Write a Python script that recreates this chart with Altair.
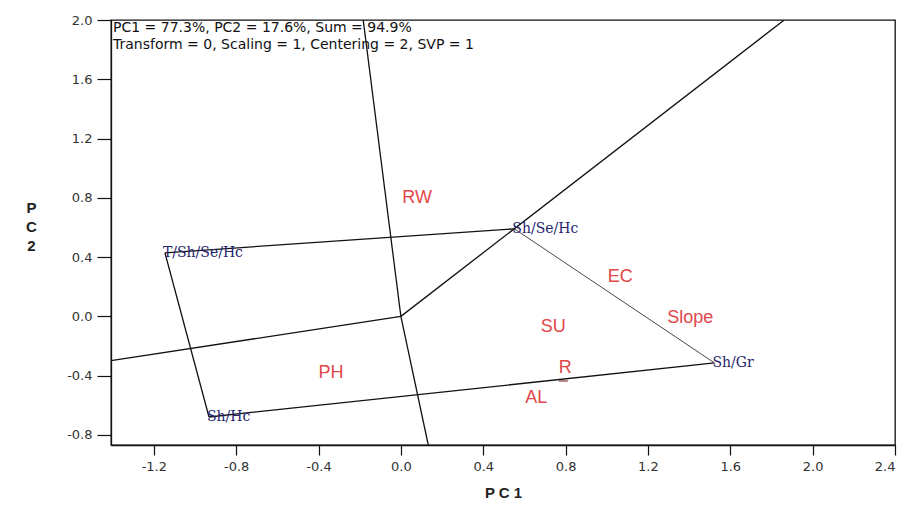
import altair as alt
import pandas as pd

# ---- data ----
gen_names = ["T/Sh/Se/Hc", "Sh/Se/Hc", "Sh/Gr", "Sh/Hc"]
gen_pc1 = [-1.146, 0.551, 1.523, -0.932]
gen_pc2 = [0.429, 0.591, -0.314, -0.679]

env_names = ["RW", "EC", "Slope", "SU", "R", "AL", "PH"]
env_pc1 = [0.079, 1.066, 1.406, 0.740, 0.798, 0.658, -0.339]
env_pc2 = [0.800, 0.267, -0.010, -0.070, -0.348, -0.550, -0.382]

# rays from the origin, perpendicular to the polygon sides (end points at the frame)
ray_pc1 = [-0.183, 1.862, 0.133, -1.408]
ray_pc2 = [2.000, 2.000, -0.868, -0.299]

r_mark_pc1 = [0.789]
r_mark_pc2 = [-0.436]

x_ticks = [-1.2, -0.8, -0.4, 0.0, 0.4, 0.8, 1.2, 1.6, 2.0, 2.4]
y_ticks = [-0.8, -0.4, 0.0, 0.4, 0.8, 1.2, 1.6, 2.0]
x_domain = [-1.408, 2.4]
y_domain = [-0.868, 2.0]

info_lines = ["PC1 = 77.3%, PC2 = 17.6%, Sum = 94.9%",
              "Transform = 0, Scaling = 1, Centering = 2, SVP = 1"]

# ---- tables ----
n = len(gen_names)
edges = pd.DataFrame({
    "pc1": gen_pc1,
    "pc2": gen_pc2,
    "pc1_end": [gen_pc1[(i + 1) % n] for i in range(n)],
    "pc2_end": [gen_pc2[(i + 1) % n] for i in range(n)],
    "side": ["top", "right", "bottom", "left"],
})
rays = pd.DataFrame({"pc1": [0.0] * len(ray_pc1), "pc2": [0.0] * len(ray_pc2),
                     "pc1_end": ray_pc1, "pc2_end": ray_pc2})
gens = pd.DataFrame({"name": gen_names, "pc1": gen_pc1, "pc2": gen_pc2})
envs = pd.DataFrame({"name": env_names, "pc1": env_pc1, "pc2": env_pc2})
rmark = pd.DataFrame({"pc1": r_mark_pc1, "pc2": r_mark_pc2})

minus_fix = "replace(format(datum.value, '.1f'), '\u2212', '-')"

X = alt.X("pc1:Q",
          scale=alt.Scale(domain=x_domain, nice=False, zero=False),
          axis=alt.Axis(values=x_ticks, labelExpr=minus_fix, title="P C 1",
                        tickSize=10, labelPadding=5, titlePadding=12,
                        titleFontSize=15, titleFontWeight="bold"))
Y = alt.Y("pc2:Q",
          scale=alt.Scale(domain=y_domain, nice=False, zero=False),
          axis=alt.Axis(values=y_ticks, labelExpr=minus_fix, title=["P", "C", "2"],
                        tickSize=14, labelPadding=5, titleAngle=0,
                        titleAlign="center", titleBaseline="top",
                        titleX=-80, titleY=180, titleLineHeight=19,
                        titleFontSize=15, titleFontWeight="bold"))

base_edges = alt.Chart(edges)
poly = base_edges.transform_filter(alt.datum.side != "right").mark_rule(
    color="#111111", strokeWidth=1.3, clip=True
).encode(x=X, y=Y, x2="pc1_end:Q", y2="pc2_end:Q")
poly_right = base_edges.transform_filter(alt.datum.side == "right").mark_rule(
    color="#333333", strokeWidth=0.9, clip=True
).encode(x=X, y=Y, x2="pc1_end:Q", y2="pc2_end:Q")

ray_layer = alt.Chart(rays).mark_rule(color="#111111", strokeWidth=1.3, clip=True).encode(
    x=X, y=Y, x2="pc1_end:Q", y2="pc2_end:Q")

gen_text = alt.Chart(gens).mark_text(
    align="left", baseline="middle", dx=-2, font="DejaVu Serif", fontSize=14,
    color="#26266e").encode(x=X, y=Y, text="name:N")

env_text = alt.Chart(envs).mark_text(
    align="center", baseline="middle", font="Liberation Sans", fontSize=18,
    color="#e2474a").encode(x=X, y=Y, text="name:N")

r_tick = alt.Chart(rmark).mark_tick(orient="horizontal", size=9, thickness=1.5,
                                    color="#7a1a1a").encode(x=X, y=Y)

info = alt.Chart(pd.DataFrame({"k": [0]})).mark_text(
    align="left", baseline="top", font="DejaVu Sans", fontSize=14, lineHeight=17,
    color="#111111").encode(x=alt.value(2), y=alt.value(1), text=alt.value(info_lines))

chart = alt.layer(poly, poly_right, ray_layer, gen_text, env_text, r_tick, info).properties(
    width=784, height=425,
    autosize=alt.AutoSizeParams(type="none"),
    padding={"left": 111, "top": 20, "right": 13, "bottom": 63},
    background="white",
).configure_view(
    stroke="#111111", strokeWidth=1.3
).configure_axis(
    grid=False, domainColor="#111111", domainWidth=1.3, tickColor="#111111",
    tickWidth=1.2, labelColor="#333333", labelFont="DejaVu Sans", labelFontSize=13,
    titleColor="#222222", titleFont="Liberation Sans"
)

chart.save("out.html", embed_options={"renderer": "svg", "actions": False})
